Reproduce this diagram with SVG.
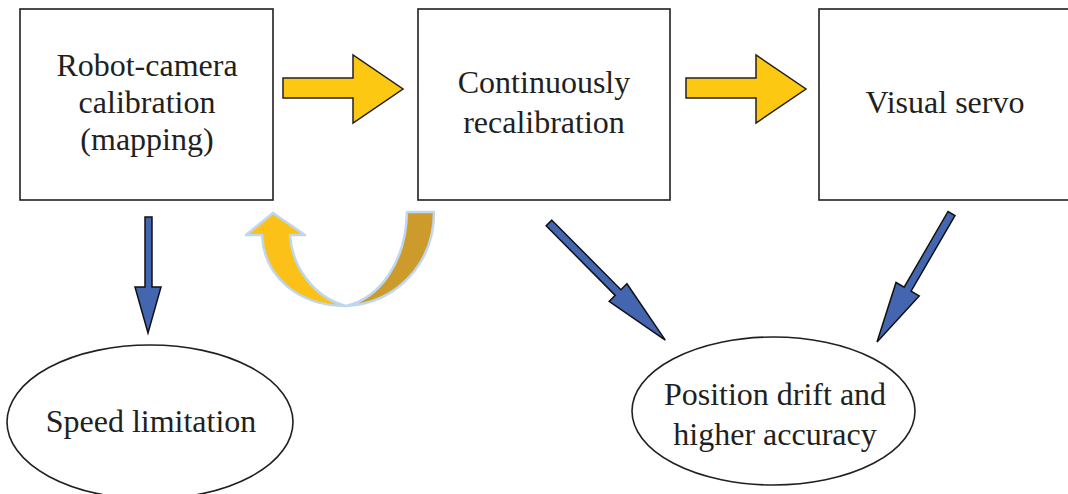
<svg xmlns="http://www.w3.org/2000/svg" width="1068" height="494" viewBox="0 0 1068 494">
<style>
.box{fill:#fff;stroke:#231f20;stroke-width:1.6}
.lbl{font-family:"Liberation Serif","Times New Roman",serif;font-size:32px;fill:#231f20;text-anchor:middle}
.ya{fill:#fcc812;stroke:#231f20;stroke-width:1.5;stroke-linejoin:miter}
.ba{fill:#4466b0;stroke:#111;stroke-width:1.5;stroke-linejoin:miter}
.cv{stroke:#bdd7ee;stroke-width:2.5;stroke-linejoin:round}
</style>
<rect width="1068" height="494" fill="#fff"/>
<g id="node-calibration">
<rect class="box" x="20" y="9" width="253" height="191"/>
<text class="lbl" x="147" y="76">Robot-camera</text>
<text class="lbl" x="147" y="113">calibration</text>
<text class="lbl" x="147" y="150">(mapping)</text>
</g>
<g id="node-recalibration">
<rect class="box" x="418" y="9" width="252" height="191"/>
<text class="lbl" x="544" y="93">Continuously</text>
<text class="lbl" x="544" y="133">recalibration</text>
</g>
<g id="node-servo">
<rect class="box" x="819" y="9" width="252" height="191"/>
<text class="lbl" x="945" y="113">Visual servo</text>
</g>
<g id="node-speed">
<ellipse class="box" cx="150" cy="422" rx="143" ry="77"/>
<text class="lbl" x="151" y="432">Speed limitation</text>
</g>
<g id="node-drift">
<ellipse class="box" cx="773.5" cy="411" rx="141.5" ry="74"/>
<text class="lbl" x="775" y="405">Position drift and</text>
<text class="lbl" x="775" y="445">higher accuracy</text>
</g>
<g id="connectors">
<polygon class="ya" points="283,78 353,78 353,55 403,89 353,123 353,98 283,98"/>
<polygon class="ya" points="686,78 756,78 756,55 806,89 756,123 756,98 686,98"/>
<path class="cv" fill="#cc9b2b" d="M407,212 L434,212 C434,262 398,303 346,306 C380,298 406,262 407,212 Z"/>
<path class="cv" fill="#fbc118" d="M262,235 L246,235 L273,213 L305,235 L290,235 C292,268 315,298 346,306 C300,306 264,278 262,235 Z"/>
<polygon class="ba" points="145,217 152,217 152,287 161,287 148,333 135,287 145,287"/>
<polygon class="ba" transform="translate(549,223) rotate(45.2)" points="0,-4 98,-4 98,-12.5 165,0 98,12.5 98,4 0,4"/>
<polygon class="ba" transform="translate(951.5,213.5) rotate(120.1)" points="0,-4 87.5,-4 87.5,-13.4 148.5,0 87.5,13.4 87.5,4 0,4"/>
</g>
</svg>
